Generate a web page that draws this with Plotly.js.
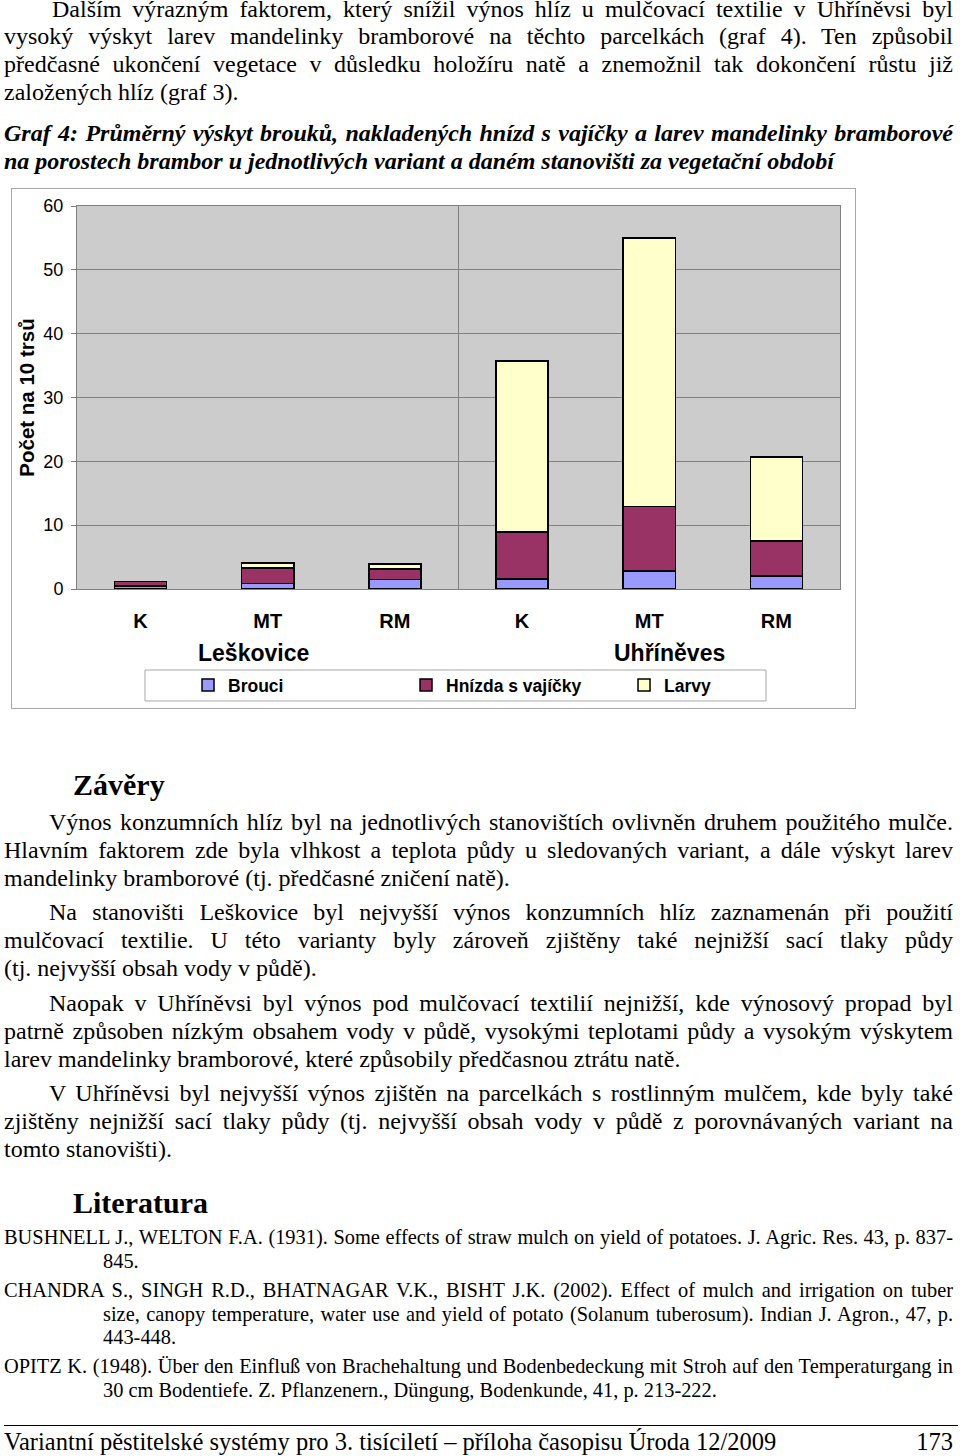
<!DOCTYPE html>
<html>
<head>
<meta charset="utf-8">
<script src="https://cdn.plot.ly/plotly-3.0.1.min.js"></script>
<style>
  html, body { margin:0; padding:0; background:#fff; }
  body { width:960px; height:1456px; position:relative; overflow:hidden; }
  .ln { position:absolute; font-family:"Liberation Serif","Times New Roman",serif; font-size:24px; line-height:28px; color:#000; white-space:normal; }
  .j { text-align:justify; text-align-last:justify; }
  .cap { font-weight:bold; font-style:italic; }
  .h { position:absolute; font-family:"Liberation Serif",serif; font-weight:bold; font-size:30px; line-height:34px; }
  .ref { position:absolute; font-family:"Liberation Serif",serif; font-size:20.4px; line-height:24px; }
  #chartbox { position:absolute; left:11px; top:188px; width:843px; height:519px; border:1px solid #a8a8a8; }
  #chart { width:843px; height:519px; }
</style>
</head>
<body>
<div class="ln j" style="left:52px;width:901px;top:1px;line-height:16px">Dalším výrazným faktorem, který snížil výnos hlíz u mulčovací textilie v Uhříněvsi byl</div>
<div class="ln j" style="left:4px;width:949px;top:22px">vysoký výskyt larev mandelinky bramborové na těchto parcelkách (graf 4). Ten způsobil</div>
<div class="ln j" style="left:4px;width:949px;top:50px">předčasné ukončení vegetace v důsledku holožíru natě a znemožnil tak dokončení růstu již</div>
<div class="ln" style="left:4px;width:949px;top:78px">založených hlíz (graf 3).</div>

<div class="ln j cap" style="left:4px;width:949px;top:119px">Graf 4: Průměrný výskyt brouků, nakladených hnízd s vajíčky a larev mandelinky bramborové</div>
<div class="ln cap" style="left:4px;width:949px;top:147px">na porostech brambor u jednotlivých variant a daném stanovišti za vegetační období</div>

<div id="chartbox"><div id="chart"></div></div>

<div class="h" style="left:73px;top:768px">Závěry</div>
<div class="ln j" style="left:49px;width:904px;top:808px">Výnos konzumních hlíz byl na jednotlivých stanovištích ovlivněn druhem použitého mulče.</div>
<div class="ln j" style="left:4px;width:949px;top:836px">Hlavním faktorem zde byla vlhkost a teplota půdy u sledovaných variant, a dále výskyt larev</div>
<div class="ln" style="left:4px;width:949px;top:864px">mandelinky bramborové (tj. předčasné zničení natě).</div>

<div class="ln j" style="left:49px;width:904px;top:898px">Na stanovišti Leškovice byl nejvyšší výnos konzumních hlíz zaznamenán při použití</div>
<div class="ln j" style="left:4px;width:949px;top:926px">mulčovací textilie. U této varianty byly zároveň zjištěny také nejnižší sací tlaky půdy</div>
<div class="ln" style="left:4px;width:949px;top:954px">(tj. nejvyšší obsah vody v půdě).</div>

<div class="ln j" style="left:49px;width:904px;top:989px">Naopak v Uhříněvsi byl výnos pod mulčovací textilií nejnižší, kde výnosový propad byl</div>
<div class="ln j" style="left:4px;width:949px;top:1017px">patrně způsoben nízkým obsahem vody v půdě, vysokými teplotami půdy a vysokým výskytem</div>
<div class="ln" style="left:4px;width:949px;top:1045px">larev mandelinky bramborové, které způsobily předčasnou ztrátu natě.</div>

<div class="ln j" style="left:49px;width:904px;top:1079px">V Uhříněvsi byl nejvyšší výnos zjištěn na parcelkách s rostlinným mulčem, kde byly také</div>
<div class="ln j" style="left:4px;width:949px;top:1107px">zjištěny nejnižší sací tlaky půdy (tj. nejvyšší obsah vody v půdě z porovnávaných variant na</div>
<div class="ln" style="left:4px;width:949px;top:1135px">tomto stanovišti).</div>

<div class="h" style="left:73px;top:1186px">Literatura</div>
<div class="ref j" style="left:4px;width:949px;top:1225px">BUSHNELL J., WELTON F.A. (1931). Some effects of straw mulch on yield of potatoes. J. Agric. Res. 43, p. 837-</div>
<div class="ref" style="left:103px;width:850px;top:1249px">845.</div>
<div class="ref j" style="left:4px;width:949px;top:1278px">CHANDRA S., SINGH R.D., BHATNAGAR V.K., BISHT J.K. (2002). Effect of mulch and irrigation on tuber</div>
<div class="ref j" style="left:103px;width:850px;top:1302px">size, canopy temperature, water use and yield of potato (Solanum tuberosum). Indian J. Agron., 47, p.</div>
<div class="ref" style="left:103px;width:850px;top:1325px">443-448.</div>
<div class="ref j" style="left:4px;width:949px;top:1354px">OPITZ K. (1948). Über den Einfluß von Brachehaltung und Bodenbedeckung mit Stroh auf den Temperaturgang in</div>
<div class="ref" style="left:103px;width:850px;top:1378px">30 cm Bodentiefe. Z. Pflanzenern., Düngung, Bodenkunde, 41, p. 213-222.</div>

<div style="position:absolute;left:4px;width:954px;top:1425px;height:0;border-top:1px solid #000"></div>
<div class="ln" style="left:4px;top:1428px;font-size:24.5px">Variantní pěstitelské systémy pro 3. tisíciletí – příloha časopisu Úroda 12/2009</div>
<div class="ln" style="left:900px;width:53px;top:1428px;text-align:right;font-size:24.5px">173</div>

<script>
// ---- data ----
const categories = ['K', 'MT', 'RM', 'K', 'MT', 'RM'];
const sites = ['Leškovice', 'Uhříněves'];
const seriesNames = ['Brouci', 'Hnízda s vajíčky', 'Larvy'];
const brouci = [0.5, 0.9, 1.5, 1.6, 2.8, 2.0];
const hnizda = [0.65, 2.4, 1.6, 7.3, 10.1, 5.5];
const larvy  = [0.0, 0.8, 0.8, 26.8, 42.1, 13.2];
const yTicks = [0, 10, 20, 30, 40, 50, 60];

const xIdx = categories.map((c, i) => i);
const colors = ['#9999FF', '#993366', '#FFFFCC'];
const values = [brouci, hnizda, larvy];

const traces = values.map((v, k) => ({
  type: 'bar',
  name: seriesNames[k],
  x: xIdx,
  y: v,
  width: 0.41,
  marker: { color: colors[k], line: { color: '#000', width: 1.5 } },
  hoverinfo: 'y+name'
}));

const sans = 'Liberation Sans, Arial, sans-serif';

const layout = {
  width: 843, height: 519,
  margin: { l: 65, r: 15, t: 17, b: 119 },
  paper_bgcolor: '#ffffff',
  plot_bgcolor: '#cccccc',
  barmode: 'stack',
  showlegend: true,
  legend: {
    orientation: 'h',
    xref: 'container', yref: 'container',
    x: 0.2088, xanchor: 'left',
    y: 0.0443, yanchor: 'middle',
    bgcolor: 'rgba(0,0,0,0)', borderwidth: 0,
    entrywidth: 173, entrywidthmode: 'pixels',
    font: { family: sans, size: 17.5, color: '#000', weight: 'bold' },
    traceorder: 'normal'
  },
  xaxis: {
    range: [-0.5, 5.5],
    tickvals: xIdx,
    ticktext: categories,
    ticks: '',
    showgrid: false,
    zeroline: false,
    showline: true, mirror: true, linecolor: '#808080', linewidth: 1,
    ticklabelstandoff: 14,
    tickfont: { family: sans, size: 20, color: '#000', weight: 'bold' },
    fixedrange: true
  },
  yaxis: {
    range: [0, 60],
    tickvals: yTicks,
    ticks: 'outside', ticklen: 5, tickcolor: '#808080',
    showgrid: true, gridcolor: '#808080', gridwidth: 1,
    zeroline: false,
    showline: true, mirror: true, linecolor: '#808080', linewidth: 1,
    ticklabelstandoff: 4,
    tickfont: { family: sans, size: 18, color: '#000' },
    title: { text: 'Počet na 10 trsů', font: { family: sans, size: 20.5, color: '#000', weight: 'bold' }, standoff: 3 },
    fixedrange: true
  },
  shapes: [
    { type: 'line', xref: 'x', yref: 'paper', x0: 2.5, x1: 2.5, y0: 0, y1: 1, line: { color: '#808080', width: 1 }, layer: 'below' },
    { type: 'rect', xref: 'paper', yref: 'paper', x0: 0.0891, x1: 0.903, y0: -0.2924, y1: -0.2115, line: { color: '#a8a8a8', width: 1 }, fillcolor: '#ffffff', layer: 'above' }
  ],
  annotations: [
    { text: sites[0], xref: 'x', yref: 'paper', x: 0.89, y: -0.167, yanchor: 'middle', showarrow: false, font: { family: sans, size: 23, color: '#000', weight: 'bold' } },
    { text: sites[1], xref: 'x', yref: 'paper', x: 4.16, y: -0.167, yanchor: 'middle', showarrow: false, font: { family: sans, size: 23, color: '#000', weight: 'bold' } }
  ]
};

Plotly.newPlot('chart', traces, layout, { displayModeBar: false, staticPlot: true });
</script>
</body>
</html>
